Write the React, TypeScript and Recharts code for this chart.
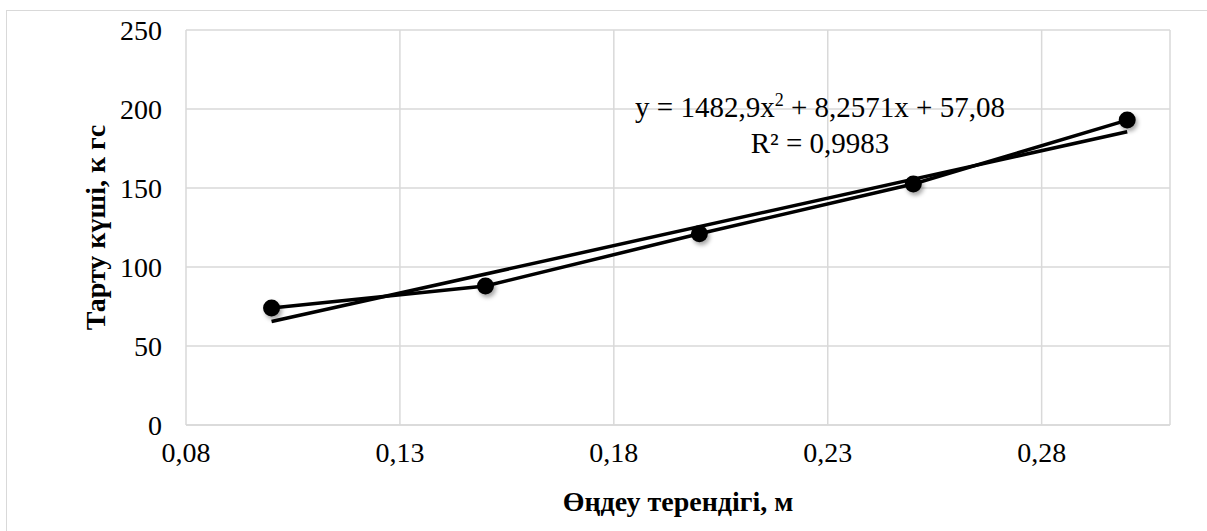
import React from 'react';
import { ComposedChart, Line, XAxis, YAxis, CartesianGrid } from 'recharts';

const depths = [0.1, 0.15, 0.2, 0.25, 0.3];
const forces = [74, 88, 121, 152.5, 193];
const trendDepths = [0.1, 0.3];
const trendForces = [65.5, 185.6];
const xTicks = [0.08, 0.13, 0.18, 0.23, 0.28];
const yTicks = [0, 50, 100, 150, 200, 250];

const seriesData = depths.map((x, i) => ({ x, y: forces[i] }));
const trendData = trendDepths.map((x, i) => ({ x, y: trendForces[i] }));

const FONT = '"Liberation Serif", "Times New Roman", serif';

const ShadowDot = (props: any) => {
  const { cx, cy } = props;
  if (cx == null || cy == null) return null;
  return (
    <circle
      cx={cx}
      cy={cy}
      r={8.5}
      fill="#000"
      style={{ filter: 'drop-shadow(2px 3px 2px rgba(0,0,0,0.35))' }}
    />
  );
};

const App: React.FC = () => {
  return (
    <div style={{ position: 'relative', width: 1207, height: 531, overflow: 'hidden', background: '#fff', fontFamily: FONT }}>
      <style>{'body{margin:0}'}</style>
      <div
        style={{
          position: 'absolute',
          left: 6,
          top: 10,
          width: 1240,
          height: 560,
          border: '1px solid #d9d9d9',
        }}
      />
      <ComposedChart
        width={1207}
        height={531}
        margin={{ top: 30, right: 37, bottom: 0, left: 0 }}
        style={{ position: 'absolute', left: 0, top: 0 }}
      >
        <CartesianGrid stroke="#d9d9d9" strokeWidth={1.5} />
        <XAxis
          type="number"
          dataKey="x"
          domain={[0.08, 0.31]}
          ticks={xTicks}
          allowDataOverflow
          height={106}
          tickLine={false}
          axisLine={{ stroke: '#d9d9d9', strokeWidth: 1.5 }}
          tickSize={0}
          tickMargin={17}
          tickFormatter={(v: number) => v.toFixed(2).replace('.', ',')}
          tick={{ fill: '#000', fontSize: 28, fontFamily: FONT }}
          label={{
            value: 'Өңдеу терендігі, м',
            position: 'insideBottom',
            offset: 20,
            fill: '#000',
            fontSize: 28,
            fontWeight: 'bold',
            fontFamily: FONT,
          }}
        />
        <YAxis
          type="number"
          domain={[0, 250]}
          ticks={yTicks}
          width={186}
          tickLine={false}
          axisLine={false}
          tickSize={0}
          tickMargin={24}
          tick={{ fill: '#000', fontSize: 28, fontFamily: FONT }}
          label={{
            value: 'Тарту күші, к гс',
            angle: -90,
            position: 'center',
            dx: 2,
            fill: '#000',
            fontSize: 28,
            fontWeight: 'bold',
            fontFamily: FONT,
          }}
        />
        <Line
          data={trendData}
          dataKey="y"
          type="linear"
          stroke="#000"
          strokeWidth={3.5}
          dot={false}
          activeDot={false}
          isAnimationActive={false}
        />
        <Line
          data={seriesData}
          dataKey="y"
          type="linear"
          stroke="#000"
          strokeWidth={3.5}
          dot={<ShadowDot />}
          activeDot={false}
          isAnimationActive={false}
        />
      </ComposedChart>
      <div
        style={{
          position: 'absolute',
          left: 620,
          width: 400,
          top: 91,
          textAlign: 'center',
          fontSize: 29,
          lineHeight: '32px',
          color: '#000',
          whiteSpace: 'nowrap',
        }}
      >
        <div>
          y = 1482,9x<sup style={{ fontSize: 18, verticalAlign: 'baseline', position: 'relative', top: -11 }}>2</sup> + 8,2571x + 57,08
        </div>
        <div>R² = 0,9983</div>
      </div>
    </div>
  );
};

export default App;
